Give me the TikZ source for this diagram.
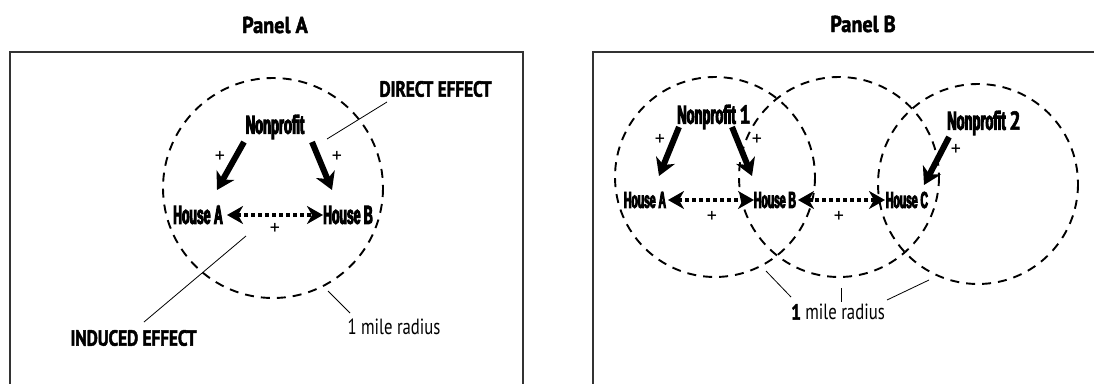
\documentclass[tikz,border=0pt]{standalone}
\usepackage{fontspec}
\setmainfont{PT Sans}
\newfontfamily\condA[FakeStretch=0.50,FakeBold=4]{Liberation Sans Bold}
\newfontfamily\condH[FakeStretch=0.47,FakeBold=4]{Liberation Sans Bold}
\newfontfamily\condB[FakeStretch=0.45,FakeBold=4]{Liberation Sans Bold}
\newfontfamily\myr[FakeStretch=0.76]{PT Sans}
\newfontfamily\myb[FakeStretch=0.78,FakeBold=2]{PT Sans Bold}
\newfontfamily\myt[FakeStretch=0.88,FakeBold=2]{PT Sans Bold}
\usetikzlibrary{arrows.meta}
\begin{document}
\begin{tikzpicture}[x=1pt,y=-1pt,
  frame/.style={draw=black!80,line width=1.8pt},
  ring/.style={draw,line width=1.9pt,dash pattern=on 9pt off 7pt},
  push/.style={line width=6pt,-{Stealth[length=17pt,width=20pt,inset=5pt]}},
  spill/.style={line width=4.5pt,dash pattern=on 4pt off 3pt,
     {Stealth[length=16pt,width=18pt,inset=5pt]}-{Stealth[length=16pt,width=18pt,inset=5pt]}},
  leader/.style={line width=0.8pt},
  title/.style={font=\myt\fontsize{23}{25}\selectfont},
  effect/.style={font=\myb\fontsize{22}{24}\selectfont},
  radius/.style={font=\myr\fontsize{22}{24}\selectfont},
  npA/.style={font=\condA\fontsize{26}{28}\selectfont,inner sep=0pt},
  houseA/.style={font=\condH\fontsize{26}{28}\selectfont,inner sep=0pt},
  houseB/.style={font=\condB\fontsize{23}{25}\selectfont,inner sep=0pt},
  plus/.style={font=\fontsize{20}{21}\selectfont,inner sep=0pt}]
\clip (0,0) rectangle (1094,383);
% frames
\draw[frame] (10,400) -- (10,52) -- (523,52) -- (523,400);
\draw[frame] (593,400) -- (593,52) -- (1100,52);
% titles
\node[title] (tA) at (275,25) {Panel A};
\node[title] (tB) at (863,24) {Panel B};

% ---------------- Panel A ----------------
\draw[ring] (273,188) circle (110);
\node[npA] (np) at (275,127) {Nonprofit};
\node[houseA] (ha) at (198,215) {House A};
\node[houseA] (hb) at (348,215) {House B};
\coordinate (npa1) at (244,142); \coordinate (haT) at (217,190);
\coordinate (npb1) at (312,142); \coordinate (hbT) at (332,190);
\draw[push] (npa1) -- (haT);
\draw[push] (npb1) -- (hbT);
\coordinate (haR) at (227,215); \coordinate (hbL) at (323,215);
\draw[spill] (haR) -- (hbL);
\node[plus] (p1) at (220,157) {+};
\node[plus] (p2) at (337,157) {+};
\node[plus] (p3) at (275,229) {+};
\node[effect,anchor=west] (direct) at (376,89) {DIRECT EFFECT};
\coordinate (dirS) at (387,102); \coordinate (dirE) at (327,139);
\draw[leader] (dirS) -- (dirE);
\node[effect,anchor=west] (induced) at (67,338) {INDUCED EFFECT};
\coordinate (indS) at (246,236); \coordinate (indE) at (144,322);
\draw[leader] (indS) -- (indE);
\node[radius,anchor=west] (radA) at (344,327) {1 mile radius};
\coordinate (radS) at (328,291); \coordinate (radE) at (350,313);
\draw[leader] (radS) -- (radE);

% ---------------- Panel B ----------------
\draw[ring] (715,177) circle (100);
\draw[ring] (839,177) circle (100);
\draw[ring] (978,184) circle (100);
\node[npA] (np1) at (714,117) {Nonprofit {\myb 1}};
\node[npA] (np2) at (984,123) {Nonprofit {\myb 2}};
\node[houseB] (bA) at (645,200) {House A};
\node[houseB] (bB) at (775,200) {House B};
\node[houseB] (bC) at (907,200) {House C};
\coordinate (n1a) at (679,127); \coordinate (bAT) at (659,176);
\coordinate (n1b) at (732,127); \coordinate (bBT) at (752,176);
\coordinate (n2c) at (949,137); \coordinate (bCT) at (924,185);
\draw[push] (n1a) -- (bAT);
\draw[push] (n1b) -- (bBT);
\draw[push] (n2c) -- (bCT);
\coordinate (bAR) at (668,200); \coordinate (bBL) at (754,200);
\coordinate (bBR) at (798,200); \coordinate (bCL) at (885,200);
\draw[spill] (bAR) -- (bBL);
\draw[spill] (bBR) -- (bCL);
\node[plus] (q1) at (660,140) {+};
\node[plus] (q2) at (757,140) {+};
\node[plus] (q3) at (956,150) {+};
\node[plus] (q4) at (712,217) {+};
\node[plus] (q5) at (839,217) {+};
\node[radius] (radB) at (838,312) {{\myb 1} mile radius};
\coordinate (r1S) at (766,271); \coordinate (r1E) at (791,297);
\coordinate (r2S) at (841,288); \coordinate (r2E) at (841,302);
\coordinate (r3S) at (929,280); \coordinate (r3E) at (887,300);
\draw[leader] (r1S) -- (r1E);
\draw[leader] (r2S) -- (r2E);
\draw[leader] (r3S) -- (r3E);
\end{tikzpicture}
\end{document}
